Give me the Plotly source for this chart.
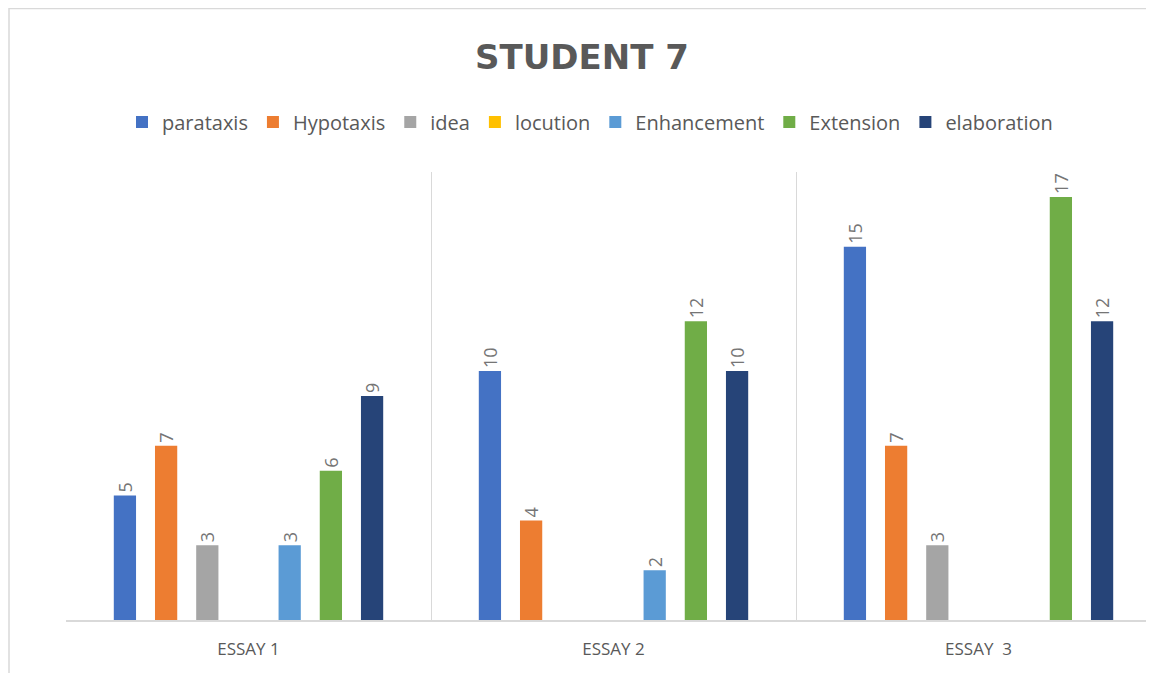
import plotly.graph_objects as go

# ---------------------------------------------------------------------------
# Data (blank cells in the source chart are None)
# ---------------------------------------------------------------------------

essays = ["ESSAY 1", "ESSAY 2", "ESSAY\u00a0\u00a03"]

parataxis   = [5, 10, 15]
hypotaxis   = [7, 4, 7]
idea        = [3, None, 3]
locution    = [None, None, None]
enhancement = [3, 2, None]
extension   = [6, 12, 17]
elaboration = [9, 10, 12]

series = [
    ("parataxis",   parataxis,   "#4472C4"),
    ("Hypotaxis",   hypotaxis,   "#ED7D31"),
    ("idea",        idea,        "#A5A5A5"),
    ("locution",    locution,    "#FFC000"),
    ("Enhancement", enhancement, "#5B9BD5"),
    ("Extension",   extension,   "#70AD47"),
    ("elaboration", elaboration, "#264478"),
]

TEXT_COLOR  = "#595959"
LABEL_COLOR = "#757575"
GRID_COLOR  = "#d9d9d9"
FONT_FAMILY = "'Open Sans', sans-serif"

# the page adds an 8px body margin, so the figure is drawn 8px smaller
W, H = 1146, 665
PLOT_L, PLOT_T, PLOT_B = 58, 164, 612   # plot area edges in figure px
PLOT_W = W - PLOT_L
PLOT_H = PLOT_B - PLOT_T
CAT_W = 365                               # px per essay category

fig = go.Figure()

for name, values, color in series:
    fig.add_trace(go.Bar(
        name=name,
        x=essays,
        y=values,
        marker=dict(color=color, line=dict(width=0)),
        text=[("" if v is None else str(v)) for v in values],
        textposition="outside",
        textangle=-90,
        textfont=dict(size=18, color=LABEL_COLOR),
        constraintext="none",
        cliponaxis=False,
    ))

fig.update_layout(
    width=W,
    height=H,
    font=dict(family=FONT_FAMILY, size=14, color=TEXT_COLOR),
    paper_bgcolor="white",
    plot_bgcolor="white",
    margin=dict(t=PLOT_T, b=H - PLOT_B, l=PLOT_L, r=0),
    title=dict(
        text="<b>STUDENT 7</b>",
        x=(582 - 8 - PLOT_L) / PLOT_W, xref="paper", xanchor="center",
        y=1 - 49 / H, yanchor="middle",
        font=dict(family="'DejaVu Sans', sans-serif", size=34, color=TEXT_COLOR),
    ),
    barmode="group",
    bargap=0.21,
    bargroupgap=0.46,
    showlegend=True,
    legend=dict(
        orientation="h",
        x=(590 - 8 - PLOT_L) / PLOT_W, xanchor="center",
        y=(PLOT_B - 114) / PLOT_H, yanchor="middle",
        font=dict(size=20, color=TEXT_COLOR),
        itemwidth=30,
        traceorder="normal",
    ),
    xaxis=dict(
        type="category",
        range=[-0.5, -0.5 + PLOT_W / CAT_W],
        tickson="boundaries",
        showgrid=True,
        gridcolor=GRID_COLOR,
        gridwidth=1,
        showline=True,
        linecolor=GRID_COLOR,
        linewidth=2,
        ticks="",
        tickfont=dict(size=17, color=TEXT_COLOR),
        ticklabelstandoff=13,
    ),
    yaxis=dict(
        range=[0, 18],
        showgrid=False,
        showticklabels=False,
        zeroline=False,
        ticks="",
    ),
    shapes=[
        dict(
            type="rect", xref="paper", yref="paper",
            x0=(1 - PLOT_L) / PLOT_W, x1=1.05,
            y0=(PLOT_B - 668) / PLOT_H, y1=(PLOT_B - 0.5) / PLOT_H,
            line=dict(color=GRID_COLOR, width=1.5),
            fillcolor="rgba(0,0,0,0)",
            layer="below",
        )
    ],
)

fig.write_html("out.html")
